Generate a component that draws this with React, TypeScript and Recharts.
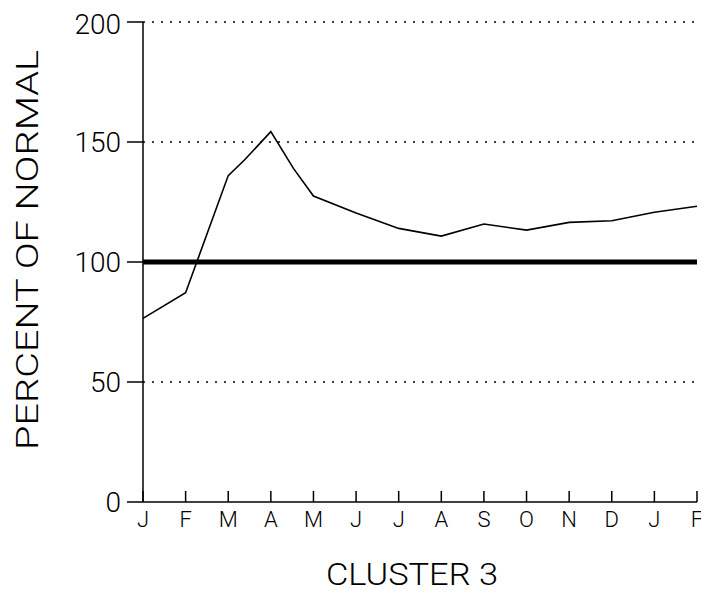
import React from 'react';
import { LineChart, Line, XAxis, YAxis, ReferenceLine, Label } from 'recharts';

// month ticks along the bottom (Jan of one year through Feb of the next)
const monthLabels = ['J', 'F', 'M', 'A', 'M', 'J', 'J', 'A', 'S', 'O', 'N', 'D', 'J', 'F'];
const monthTicks = monthLabels.map((_, i) => i);

// position along the month axis + value
const monthPos = [0, 1, 2, 2.38, 3, 3.53, 4, 5, 6, 7, 8, 9, 10, 11, 12, 13];
const percentOfNormal = [76.5, 87.2, 136, 142.5, 154.3, 139, 127.5, 120.4, 114, 110.8, 115.8, 113.3, 116.5, 117.2, 120.7, 123.2];

const yTicks = [0, 50, 100, 150, 200];
const dottedLevels = [50, 150, 200];
const normalLevel = 100;

const FONT = 'Roboto, "Liberation Sans", Arial, sans-serif';

const chartData = monthPos.map((m, i) => ({ m, pct: percentOfNormal[i] }));

const MonthTick = (props: any) => {
  const { x, y, payload } = props;
  return (
    <g>
      <line x1={x} x2={x} y1={y} y2={y - 11} stroke="#000" strokeWidth={1.5} />
      <text x={x} y={y + 25} textAnchor="middle" fontSize={22} fontFamily={FONT} fontWeight={300} fill="#000">
        {monthLabels[payload.value]}
      </text>
    </g>
  );
};

const App: React.FC = () => {
  return (
    <LineChart
      width={701}
      height={585}
      data={chartData}
      margin={{ top: 14, right: 12, bottom: 0, left: 0 }}
    >
      {dottedLevels.map(v => (
        <ReferenceLine key={v} y={v} stroke="#000" strokeWidth={1.5} strokeDasharray="2 7" />
      ))}
      <ReferenceLine y={normalLevel} stroke="#000" strokeWidth={5} />

      <XAxis
        type="number"
        dataKey="m"
        domain={[0, 13]}
        ticks={monthTicks}
        interval={0}
        height={91}
        tickSize={0}
        tickMargin={0}
        tickLine={false}
        tick={<MonthTick />}
        axisLine={{ stroke: '#000', strokeWidth: 1.5 }}
      >
        <Label
          content={() => (
            <text
              x={404}
              y={577}
              textAnchor="middle"
              fontSize={32}
              textLength={172}
              lengthAdjust="spacingAndGlyphs"
              fontFamily={FONT}
              fontWeight={300}
              fill="#000"
            >
              CLUSTER 3
            </text>
          )}
        />
      </XAxis>
      <YAxis
        domain={[0, 200]}
        ticks={yTicks}
        width={135}
        tickSize={16}
        tickMargin={6}
        tick={{ fontSize: 28, fill: '#000', fontFamily: FONT, fontWeight: 300 }}
        tickLine={{ stroke: '#000', strokeWidth: 1.5 }}
        axisLine={{ stroke: '#000', strokeWidth: 1.5 }}
      >
        <Label
          content={() => (
            <text
              x={30}
              y={242}
              transform="rotate(-90 30 242)"
              textAnchor="middle"
              fontSize={32}
              textLength={400}
              lengthAdjust="spacingAndGlyphs"
              fontFamily={FONT}
              fontWeight={300}
              fill="#000"
            >
              PERCENT OF NORMAL
            </text>
          )}
        />
      </YAxis>

      <Line
        type="linear"
        dataKey="pct"
        stroke="#000"
        strokeWidth={1.6}
        dot={false}
        isAnimationActive={false}
      />
    </LineChart>
  );
};

export default App;
